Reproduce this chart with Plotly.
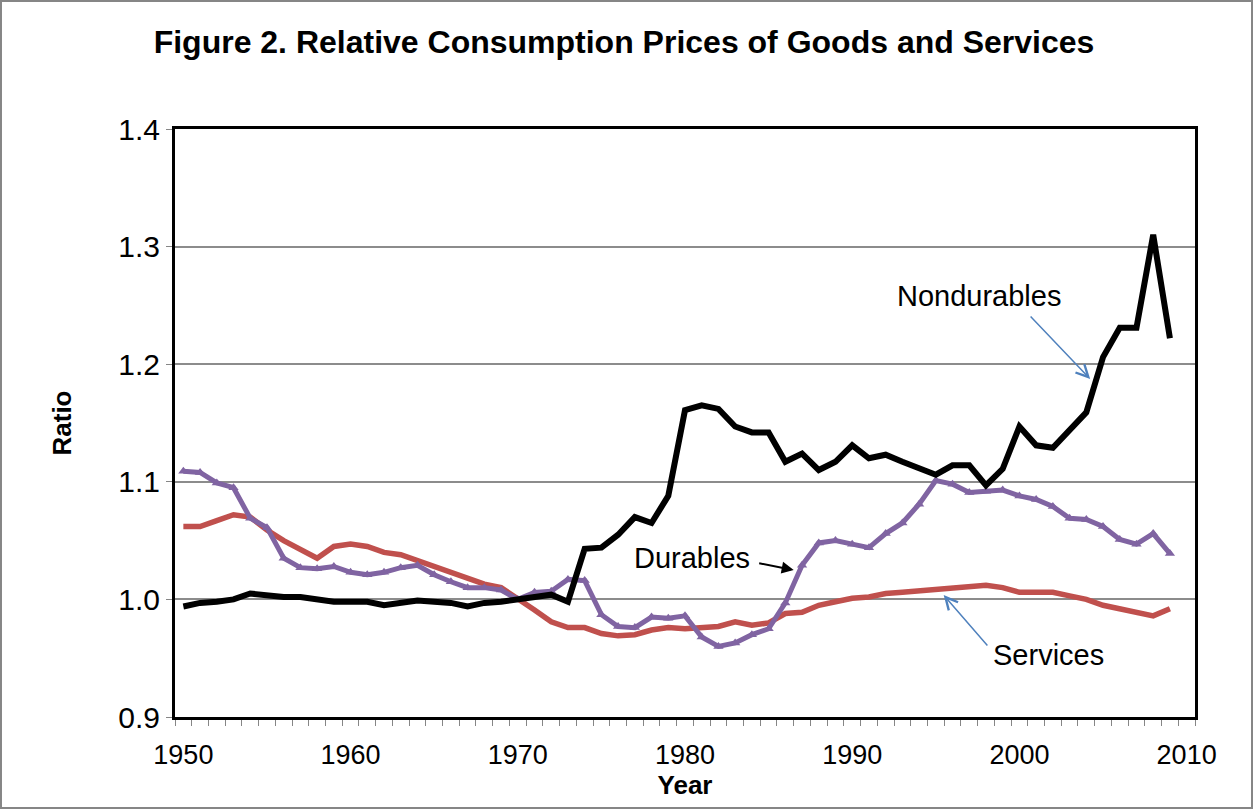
import plotly.graph_objects as go

years = list(range(1950, 2010))

nondurables = [
    0.994, 0.997, 0.998, 1.000, 1.005, 1.003, 1.002, 1.002, 1.000, 0.998,
    0.998, 0.998, 0.995, 0.997, 0.999, 0.998, 0.997, 0.994, 0.997, 0.998,
    1.000, 1.002, 1.004, 0.998, 1.043, 1.044, 1.055, 1.070, 1.065, 1.088,
    1.161, 1.165, 1.162, 1.147, 1.142, 1.142, 1.117, 1.124, 1.110, 1.117,
    1.131, 1.120, 1.123, 1.117, 1.111, 1.106, 1.114, 1.114, 1.097, 1.111,
    1.147, 1.131, 1.129, 1.144, 1.159, 1.206, 1.231, 1.231, 1.310, 1.222,
]

services = [
    1.062, 1.062, 1.067, 1.072, 1.070, 1.059, 1.050, 1.043, 1.035, 1.045,
    1.047, 1.045, 1.040, 1.038, 1.033, 1.029, 1.023, 1.018, 1.013, 1.010,
    1.001, 0.991, 0.981, 0.976, 0.976, 0.971, 0.969, 0.970, 0.974, 0.976,
    0.975, 0.976, 0.977, 0.981, 0.978, 0.980, 0.988, 0.989, 0.995, 0.998,
    1.001, 1.002, 1.005, 1.006, 1.007, 1.008, 1.009, 1.011, 1.012, 1.010,
    1.006, 1.006, 1.006, 1.003, 1.000, 0.995, 0.992, 0.989, 0.986, 0.992,
]

durables = [
    1.109, 1.108, 1.099, 1.095, 1.069, 1.061, 1.035, 1.027, 1.026, 1.028,
    1.023, 1.021, 1.023, 1.027, 1.029, 1.021, 1.015, 1.010, 1.010, 1.008,
    1.000, 1.006, 1.007, 1.017, 1.016, 0.987, 0.977, 0.976, 0.985, 0.984,
    0.986, 0.968, 0.960, 0.963, 0.970, 0.975, 0.997, 1.029, 1.048, 1.050,
    1.047, 1.044, 1.056, 1.065, 1.081, 1.101, 1.098, 1.091, 1.092, 1.093,
    1.088, 1.085, 1.079, 1.069, 1.068, 1.062, 1.051, 1.047, 1.056, 1.039,
]

x_ticks = [1950, 1960, 1970, 1980, 1990, 2000, 2010]
y_ticks = [0.9, 1.0, 1.1, 1.2, 1.3, 1.4]

title_text = "Figure 2. Relative Consumption Prices of Goods and Services"

FONT = "Liberation Sans, Arial, sans-serif"

fig = go.Figure()
fig.add_trace(go.Scatter(x=years, y=services, mode="lines", name="Services",
                         line=dict(color="#C0504D", width=5.5)))
fig.add_trace(go.Scatter(x=years, y=durables, mode="lines+markers", name="Durables",
                         line=dict(color="#8064A2", width=5),
                         marker=dict(symbol="triangle-up", size=9, color="#8064A2")))
fig.add_trace(go.Scatter(x=years, y=nondurables, mode="lines", name="Nondurables",
                         line=dict(color="#000000", width=6)))

fig.update_layout(
    width=1253, height=809,
    margin=dict(l=175, r=58, t=129, b=92),
    paper_bgcolor="white", plot_bgcolor="white",
    showlegend=False,
    font=dict(family=FONT, color="black"),
    title=dict(text="<b>" + title_text + "</b>", x=0.498, xanchor="center",
               y=0.948, yanchor="middle", font=dict(size=32, family=FONT)),
)

fig.update_xaxes(
    range=[1949.5, 2010.5], tickvals=x_ticks, ticktext=[str(v) for v in x_ticks],
    ticks="", showgrid=False, zeroline=False,
    showline=True, linecolor="black", linewidth=3, mirror=True,
    tickfont=dict(size=27, family=FONT), ticklabelstandoff=12,
    minor=dict(tick0=1949.5, dtick=1, ticks="outside", ticklen=6,
               tickcolor="#868686", tickwidth=1, showgrid=False),
    title=dict(text="<b>Year</b>", font=dict(size=26, family=FONT), standoff=6),
)
fig.update_yaxes(
    range=[0.9, 1.4], tickvals=y_ticks, ticktext=["%.1f" % v for v in y_ticks],
    ticks="outside", ticklen=6, tickcolor="#868686",
    showgrid=True, gridcolor="#8c8c8c", gridwidth=2, zeroline=False,
    showline=True, linecolor="black", linewidth=3, mirror=True,
    tickfont=dict(size=30, family=FONT),
    title=dict(text="<b>Ratio</b>", font=dict(size=26, family=FONT), standoff=40),
)

# outer chart border
fig.add_shape(type="rect", xref="paper", yref="paper",
              x0=-0.1706, x1=1.0559, y0=-0.1548, y1=1.2177,
              line=dict(color="#868686", width=2), layer="below")

# labels
fig.add_annotation(x=1997.56, y=1.258, text="Nondurables", showarrow=False,
                   font=dict(size=29, family=FONT), xanchor="center", yanchor="middle")
fig.add_annotation(x=1980.4, y=1.0352, text="Durables", showarrow=False,
                   font=dict(size=29, family=FONT), xanchor="center", yanchor="middle")
fig.add_annotation(x=2001.75, y=0.9527, text="Services", showarrow=False,
                   font=dict(size=29, family=FONT), xanchor="center", yanchor="middle")

# arrows
fig.add_annotation(x=2004.23, y=1.1874, text="", showarrow=True, ax=-61, ay=-64,
                   arrowhead=5, arrowsize=1.6, arrowwidth=1.5, arrowcolor="#4F81BD")
fig.add_annotation(x=1986.5, y=1.025, text="", showarrow=True, ax=-36, ay=-7,
                   arrowhead=2, arrowsize=1.2, arrowwidth=2, arrowcolor="black")
fig.add_annotation(x=1995.47, y=1.0037, text="", showarrow=True, ax=45, ay=52,
                   arrowhead=5, arrowsize=1.6, arrowwidth=1.5, arrowcolor="#4F81BD")

fig.write_html("out.html", config=dict(displayModeBar=False),
               post_script="document.body.style.margin='0px';")
